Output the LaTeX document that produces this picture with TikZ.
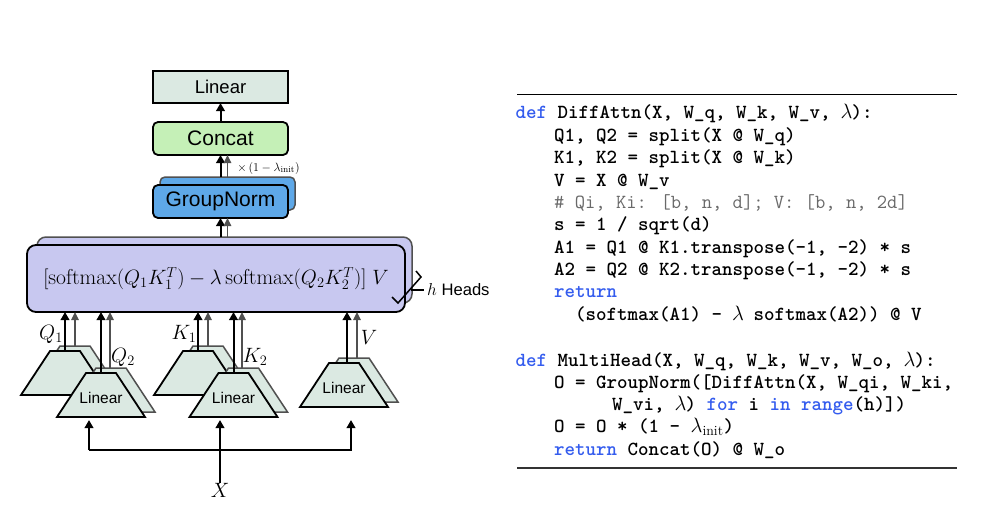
\documentclass[tikz,border=0pt]{standalone}
\usepackage{fontspec}
\usepackage{amsmath}
\usetikzlibrary{arrows.meta}
\newfontfamily\sansf{Liberation Sans}
\definecolor{lingreen}{RGB}{219,233,226}
\definecolor{catgreen}{RGB}{197,240,183}
\definecolor{gnblue}{RGB}{94,168,232}
\definecolor{attnlav}{RGB}{200,200,240}
\definecolor{kwblue}{RGB}{52,92,238}
\definecolor{cmtgray}{RGB}{105,105,105}
\definecolor{shadowgray}{RGB}{80,80,80}
\newcommand\lam{\makebox[0.525em]{$\lambda$}}
\newcommand\kw[1]{\textcolor{kwblue}{#1}}
% trapezoid: name, cx, cy (centre), draw style, text
\newcommand\trapezoid[5]{%
  \draw[#4] (#2-15,#3-22) -- (#2+15,#3-22) -- (#2+44,#3+22) -- (#2-44,#3+22) -- cycle;
  \coordinate (#1t) at (#2,#3-22);
  \coordinate (#1b) at (#2,#3+22);
  \node[inner sep=0pt,font=\sansf\fontsize{15.5}{15.5}\selectfont] (#1) at (#2,#3+3) {#5};
}
\begin{document}
\begin{tikzpicture}[x=1pt,y=-1pt,
  fbox/.style={draw=black,line width=1.8pt,minimum width=135pt,minimum height=32pt,inner sep=0pt,outer sep=0pt},
  sbox/.style={draw=shadowgray,line width=1.5pt,minimum width=135pt,minimum height=32pt,inner sep=0pt,outer sep=0pt},
  arr/.style={line width=2pt,-{Triangle[length=8pt,width=8.5pt]}},
  garr/.style={line width=1.5pt,draw=shadowgray,-{Triangle[length=8pt,width=7.5pt]}},
  trapf/.style={fill=lingreen,draw=black,line width=1.8pt,line join=miter},
  traps/.style={fill=lingreen,draw=shadowgray,line width=1.5pt,line join=miter},
  mlab/.style={font=\fontsize{21}{21}\selectfont,inner sep=0pt},
  codeln/.style={anchor=base west,inner sep=0pt,font=\ttfamily\bfseries\fontsize{20}{22}\selectfont},
]
\useasboundingbox (0,0) rectangle (988,515);

% ---- top stack
\node[fbox,fill=lingreen,font=\sansf\fontsize{18.5}{18.5}\selectfont] (lin) at (220.5,87) {Linear};
\node[fbox,fill=catgreen,rounded corners=5pt,minimum height=33pt,font=\sansf\fontsize{21}{21}\selectfont] (cat) at (220.5,138.5) {Concat};
\node[sbox,fill=gnblue,rounded corners=5pt,minimum height=33pt] (gns) at (227.5,193.5) {};
\node[fbox,fill=gnblue,rounded corners=5pt,minimum height=33pt,font=\sansf\fontsize{21}{21}\selectfont] (gn) at (220.5,201.5) {GroupNorm};

% ---- attention box
\node[sbox,fill=attnlav,minimum width=375pt,minimum height=66pt,rounded corners=9pt] (attns) at (224.5,270) {};
\node[fbox,fill=attnlav,minimum width=378pt,minimum height=67pt,rounded corners=9pt,font=\fontsize{21.6}{21.6}\selectfont] (attn) at (216,278.5) {$[\mathrm{softmax}(Q_1K_1^T)-\lambda\,\mathrm{softmax}(Q_2K_2^T)]\;V$};

% ---- heads marker
\draw[line width=1.5pt] (416,271) -- (421,277) -- (398,303) -- (392,297);
\draw[line width=1.5pt] (411,290) -- (424,290);
\node[anchor=west,inner sep=0pt,font=\sansf\fontsize{16.6}{16.6}\selectfont] (heads) at (427,290) {{\fontsize{19}{19}\selectfont$h$} Heads};

% ---- linear projections
\trapezoid{q1s}{75}{368}{traps}{}
\trapezoid{q1}{65}{373}{trapf}{}
\trapezoid{q2s}{111}{390}{traps}{}
\trapezoid{q2}{101}{395}{trapf}{Linear}
\trapezoid{k1s}{208}{368}{traps}{}
\trapezoid{k1}{198}{373}{trapf}{}
\trapezoid{k2s}{243.5}{390}{traps}{}
\trapezoid{k2}{233.5}{395}{trapf}{Linear}
\trapezoid{vs}{354}{380}{traps}{}
\trapezoid{v}{344}{385}{trapf}{Linear}

% ---- arrows into attention box
\draw[arr] (q1t) -- (q1t |- attn.south);
\draw[garr] (q1st) -- (q1st |- attn.south);
\draw[arr] (q2t) -- (q2t |- attn.south);
\draw[garr] ([xshift=-1pt]q2st) -- ([xshift=-1pt]q2st |- attn.south);
\draw[arr] (k1t) -- (k1t |- attn.south);
\draw[garr] (k1st) -- (k1st |- attn.south);
\draw[arr] (k2t) -- (k2t |- attn.south);
\draw[garr] ([xshift=-1.5pt]k2st) -- ([xshift=-1.5pt]k2st |- attn.south);
\draw[arr] ([xshift=3pt]vt) -- ([xshift=3pt]vt |- attn.south);
\draw[garr] ([xshift=3pt]vst) -- ([xshift=3pt]vst |- attn.south);

\node[mlab] (lq1) at (51,334) {$Q_1$};
\node[mlab] (lq2) at (123,357) {$Q_2$};
\node[mlab] (lk1) at (184,334) {$K_1$};
\node[mlab] (lk2) at (255,357) {$K_2$};
\node[mlab] (lv) at (369,337) {$V$};

% ---- arrows in top stack
\draw[arr] (gn.south |- attns.north) -- (gn.south);
\draw[garr] (gns.south |- attns.north) -- (gns.south |- gn.south);
\draw[arr] (gn.north |- gns.north) -- (cat.south);
\draw[garr] (gns.north) -- (gns.north |- cat.south);
\draw[arr] (cat.north) -- (lin.south);
\node[inner sep=0pt,font=\fontsize{13}{13}\selectfont] (scale) at (268.5,168) {$\times\,(1-\lambda_{\mathrm{init}})$};

% ---- input X
\node[mlab] (x) at (220,490) {$X$};
\coordinate (hl) at (89,450);
\coordinate (xq) at (89,420);
\coordinate (xk) at (220,420);
\coordinate (xv) at (351,420);
\draw[arr] (x.north) -- (xk);
\draw[arr] (hl) -- (xq);
\draw[arr] (hl) -| (xv);

% ---- code listing
\draw[line width=1pt] (517,94) -- (957,94);
\draw[line width=1.3pt,draw=black!80] (517,468) -- (957,468);
\node[codeln] (c1) at (515.5,118) {\kw{def} DiffAttn(X, W\_q, W\_k, W\_v, \lam):};
\node[codeln] (c2) at (554,141) {Q1, Q2 = split(X @ W\_q)};
\node[codeln] (c3) at (554,163) {K1, K2 = split(X @ W\_k)};
\node[codeln] (c4) at (554,186) {V = X @ W\_v};
\node[codeln] (c5) at (554,208) {\textcolor{cmtgray}{\mdseries\# Qi, Ki: [b, n, d]; V: [b, n, 2d]}};
\node[codeln] (c6) at (554,230) {s = 1 / sqrt(d)};
\node[codeln] (c7) at (554,253) {A1 = Q1 @ K1.transpose(-1, -2) * s};
\node[codeln] (c8) at (554,275) {A2 = Q2 @ K2.transpose(-1, -2) * s};
\node[codeln] (c9) at (554,297) {\kw{return}};
\node[codeln] (c10) at (575,320) {(softmax(A1) - \lam{} softmax(A2)) @ V};
\node[codeln] (c11) at (515.5,366) {\kw{def} MultiHead(X, W\_q, W\_k, W\_v, W\_o, \lam):};
\node[codeln] (c12) at (554,388) {O = GroupNorm([DiffAttn(X, W\_qi, W\_ki,};
\node[codeln] (c13) at (612,410) {W\_vi, \lam) \kw{for} i \kw{in} \kw{range}(h)])};
\node[codeln] (c14) at (554,432) {O = O * (1 - $\lambda_{\mathrm{init}}$)};
\node[codeln] (c15) at (554,455) {\kw{return} Concat(O) @ W\_o};
\end{tikzpicture}
\end{document}
